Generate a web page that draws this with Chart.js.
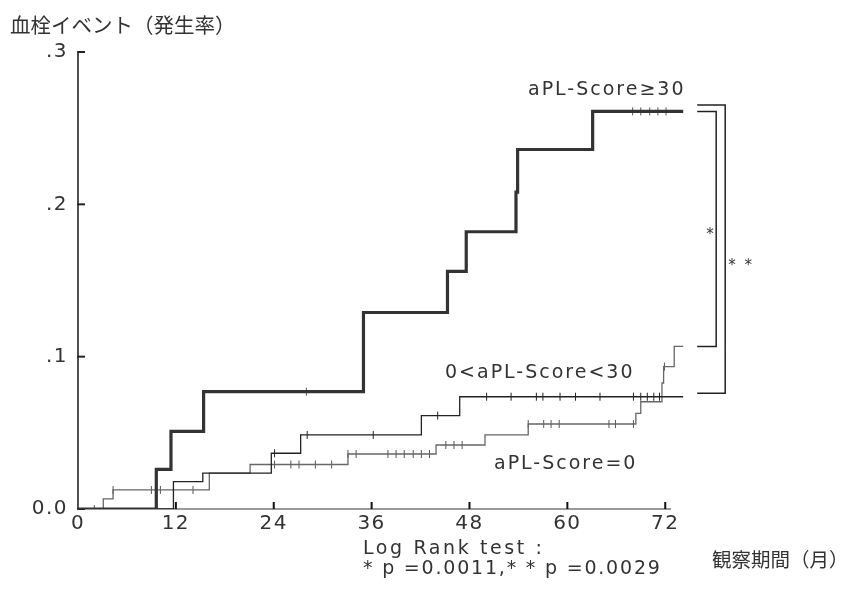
<!DOCTYPE html>
<html>
<head>
  <meta charset="utf-8">
  <title>血栓イベント（発生率）</title>
  <script src="https://cdn.jsdelivr.net/npm/chart.js@4.4.0/dist/chart.umd.min.js"></script>
  <style>
    body { margin: 0; background: #fff; }
  </style>
</head>
<body>
  <canvas id="chart" width="848" height="603"></canvas>

<script>
  // axis ticks
  const xTicks = [0, 12, 24, 36, 48, 60, 72];
  const yTicks = [0, 0.1, 0.2, 0.3];
  const yTickLabels = ['0.0', '.1', '.2', '.3'];

  // aPL-Score>=30 : step times (months) and cumulative incidence after each step
  const highTimes = [0, 9.6, 11.4, 15.4, 35.0, 45.3, 47.6, 53.7, 53.9, 63.1, 74.2];
  const highValues = [0, 0.026, 0.051, 0.077, 0.129, 0.156, 0.182, 0.208, 0.236, 0.261, 0.261];
  const highCensor = [28.0, 68.0, 69.0, 70.1, 71.1, 72.1];

  // 0<aPL-Score<30
  const midTimes = [0, 11.7, 15.3, 23.7, 27.3, 42.1, 46.8, 74.2];
  const midValues = [0, 0.018, 0.0236, 0.0366, 0.0486, 0.0613, 0.0737, 0.0737];
  const midCensor = [24.1, 28.1, 36.2, 44.1, 50.1, 53.1, 56.2, 57.0, 59.1, 61.0, 64.0, 68.1, 69.0, 69.8, 70.6, 71.3];

  // aPL-Score=0
  const lowTimes = [0, 3.1, 4.3, 16.1, 21.1, 33.1, 43.9, 49.9, 55.2, 68.4, 69.0, 71.6, 71.8, 73.1, 74.2];
  const lowValues = [0, 0.0067, 0.0125, 0.0236, 0.0292, 0.0361, 0.042, 0.0486, 0.0558, 0.0628, 0.0704, 0.0827, 0.0935, 0.1067, 0.1067];
  const lowCensor = [2.0, 4.3, 9.0, 10.1, 14.1, 24.1, 26.1, 27.1, 29.1, 31.1, 33.1, 34.1, 38.0, 39.0, 40.0, 41.1, 42.1, 43.1,
    45.1, 46.1, 47.1, 55.2, 57.1, 58.0, 59.0, 65.1, 65.9, 68.1, 71.9];

  const LATIN = '"DejaVu Sans", "Noto Sans CJK JP", sans-serif';
  const CJK = '"Noto Sans CJK JP", sans-serif';
  const TEXT = '#333';

  // value of a step curve at time t
  function stepValue(times, values, t) {
    let v = values[0];
    for (let i = 0; i < times.length; i++) {
      if (times[i] <= t) v = values[i];
    }
    return v;
  }

  function curve(times, values, color, width) {
    return {
      data: times.map((t, i) => ({ x: t, y: values[i] })),
      stepped: 'before',
      borderColor: color,
      borderWidth: width,
      pointRadius: 0,
      fill: false
    };
  }

  function censors(times, values, marks, color) {
    return {
      data: marks.map(t => ({ x: t, y: stepValue(times, values, t) })),
      showLine: false,
      pointStyle: 'line',
      pointRotation: 90,
      pointRadius: 4,
      pointBorderWidth: 1,
      borderColor: color,
      backgroundColor: color
    };
  }

  const axesPlugin = {
    id: 'axes',
    beforeDraw(chart) {
      chart.ctx.letterSpacing = '1.5px';
    },
    beforeDatasetsDraw(chart) {
      const { ctx, scales: { x, y } } = chart;
      const x0 = x.getPixelForValue(0);
      const y0 = y.getPixelForValue(0);
      ctx.save();
      // x axis
      ctx.strokeStyle = '#777';
      ctx.lineWidth = 1.5;
      ctx.beginPath();
      ctx.moveTo(x0, y0);
      ctx.lineTo(x.getPixelForValue(72.7), y0);
      ctx.stroke();
      ctx.strokeStyle = '#111';
      ctx.lineWidth = 2;
      xTicks.slice(1).forEach(v => {
        const px = x.getPixelForValue(v);
        ctx.beginPath();
        ctx.moveTo(px, y0);
        ctx.lineTo(px, y0 - 7);
        ctx.stroke();
      });
      // y axis
      ctx.strokeStyle = '#222';
      ctx.lineWidth = 1.6;
      ctx.beginPath();
      ctx.moveTo(x0, y0);
      ctx.lineTo(x0, y.getPixelForValue(0.3));
      ctx.stroke();
      ctx.lineWidth = 2;
      yTicks.forEach(v => {
        const py = y.getPixelForValue(v);
        ctx.beginPath();
        ctx.moveTo(x0 - 0.8, py);
        ctx.lineTo(x0 + 7, py);
        ctx.stroke();
      });
      ctx.restore();
    },
    afterDraw(chart) {
      const { ctx, scales: { x, y } } = chart;
      ctx.save();
      ctx.fillStyle = TEXT;
      ctx.textBaseline = 'middle';
      ctx.textAlign = 'left';

      // brackets between curve ends
      const xe = x.getPixelForValue(highTimes[highTimes.length - 1]);
      const yHigh = y.getPixelForValue(highValues[highValues.length - 1]);
      const yMid = y.getPixelForValue(midValues[midValues.length - 1]);
      const yLow = y.getPixelForValue(lowValues[lowValues.length - 1]);
      ctx.strokeStyle = '#222';
      ctx.lineWidth = 1.5;
      ctx.beginPath();
      ctx.moveTo(xe + 14, yHigh);
      ctx.lineTo(xe + 33, yHigh);
      ctx.lineTo(xe + 33, yLow);
      ctx.lineTo(xe + 14, yLow);
      ctx.moveTo(xe + 14, yHigh - 6.5);
      ctx.lineTo(xe + 42, yHigh - 6.5);
      ctx.lineTo(xe + 42, yMid - 3.5);
      ctx.lineTo(xe + 14, yMid - 3.5);
      ctx.stroke();

      ctx.letterSpacing = '2px';
      ctx.font = '15px ' + LATIN;
      ctx.fillText('*', xe + 23, (yHigh + yLow) / 2 + 6);
      ctx.fillText('* *', xe + 45, (yHigh + yMid) / 2 + 12);

      // curve labels
      ctx.font = '19px ' + LATIN;
      ctx.fillText('aPL-Score≥30', 528, 90);
      ctx.fillText('0<aPL-Score<30', 445, 373);
      ctx.fillText('aPL-Score=0', 494, 464);

      ctx.letterSpacing = '2.6px';
      ctx.fillText('Log Rank test :', 363, 549);
      ctx.letterSpacing = '1.8px';
      ctx.fillText('* p =0.0011,* * p =0.0029', 363, 569);

      // axis titles
      ctx.letterSpacing = '0px';
      ctx.font = '20.5px ' + CJK;
      ctx.fillText('血栓イベント（発生率）', 10, 25);
      ctx.font = '19.5px ' + CJK;
      ctx.fillText('観察期間（月）', 712, 560);
      ctx.restore();
    }
  };

  const chart = new Chart(document.getElementById('chart'), {
    type: 'line',
    data: {
      datasets: [
        curve(highTimes, highValues, '#333', 3.2),
        censors(highTimes, highValues, highCensor, '#555'),
        curve(midTimes, midValues, '#222', 1.3),
        censors(midTimes, midValues, midCensor, '#222'),
        curve(lowTimes, lowValues, '#666', 1.3),
        censors(lowTimes, lowValues, lowCensor, '#555')
      ]
    },
    options: {
      responsive: false,
      animation: false,
      events: [],
      layout: { padding: { left: 0, right: 164, top: 52, bottom: 0 } },
      plugins: { legend: { display: false }, tooltip: { enabled: false } },
      scales: {
        x: {
          type: 'linear',
          min: 0,
          max: 74.3,
          grid: { display: false, drawTicks: false },
          border: { display: false },
          afterBuildTicks: s => { s.ticks = xTicks.map(v => ({ value: v })); },
          afterFit: s => { s.height = 94; },
          ticks: {
            autoSkip: false,
            maxRotation: 0,
            padding: 3,
            color: TEXT,
            font: { family: LATIN, size: 20 },
            callback: (v, i) => String(xTicks[i])
          }
        },
        y: {
          type: 'linear',
          min: 0,
          max: 0.3,
          grid: { display: false, drawTicks: false },
          border: { display: false },
          afterBuildTicks: s => { s.ticks = yTicks.map(v => ({ value: v })); },
          afterFit: s => { s.width = 78; },
          ticks: {
            padding: 10,
            color: TEXT,
            font: { family: LATIN, size: 20 },
            callback: (v, i) => yTickLabels[i]
          }
        }
      }
    },
    plugins: [axesPlugin]
  });
</script>
</body>
</html>
